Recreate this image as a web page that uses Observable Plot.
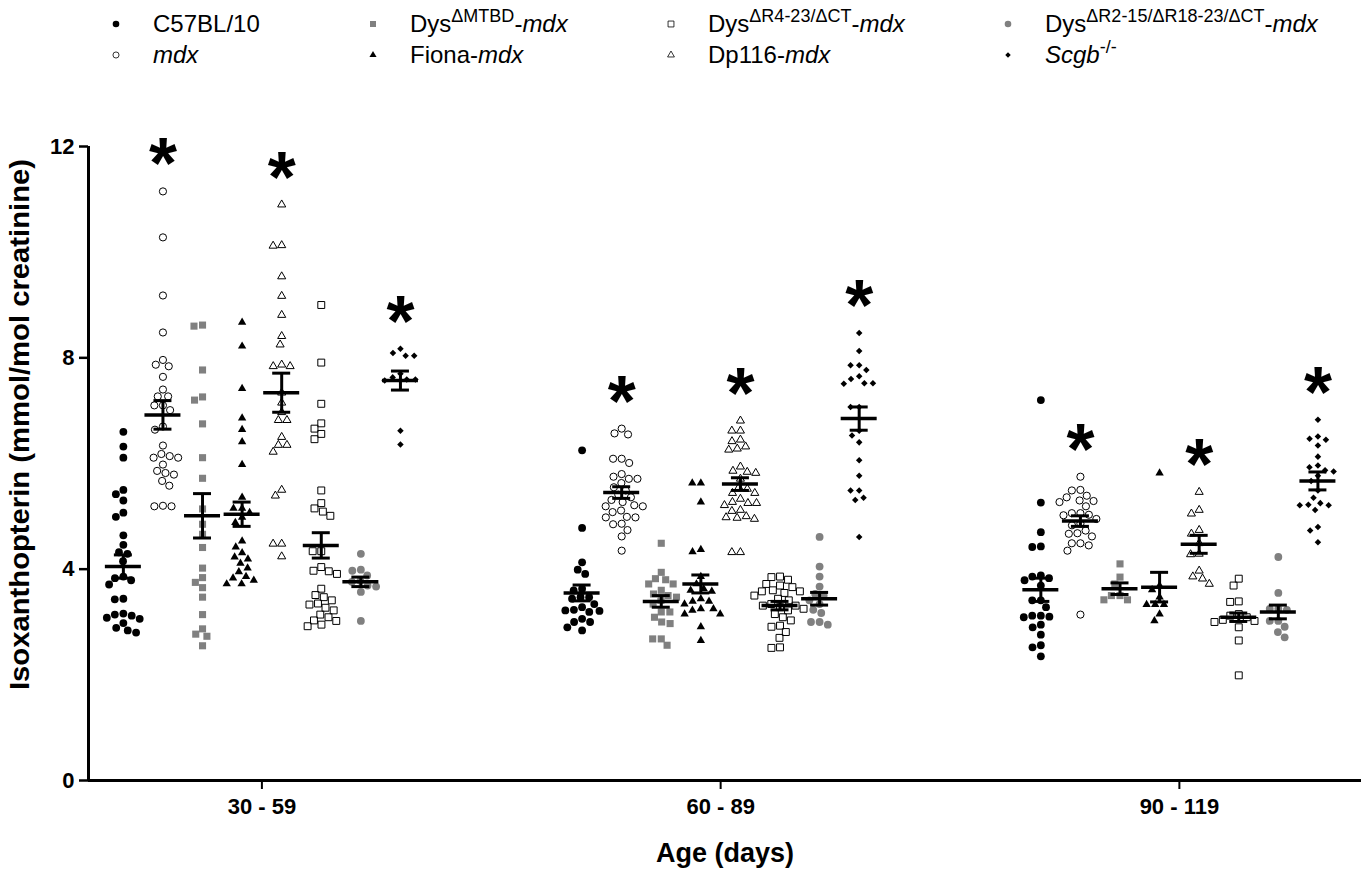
<!DOCTYPE html>
<html>
<head>
<meta charset="utf-8">
<script src="https://cdn.jsdelivr.net/npm/d3@7"></script>
<script src="https://cdn.jsdelivr.net/npm/@observablehq/plot@0.6"></script>
<style>
  body { margin: 0; background: #fff; font-family: "Liberation Sans", Arial, Helvetica, sans-serif; color: #000; }
  #legend { position: relative; width: 1361px; height: 80px; }
  .lg-sym { position: absolute; }
  .lg-txt { position: absolute; font-size: 24px; line-height: 24px; white-space: nowrap; }
  .lg-txt sup { font-size: 18px; vertical-align: 0; position: relative; top: -10px; }
  #chart svg { display: block; }
</style>
</head>
<body>
<div id="legend"></div>
<div id="chart"></div>
<script>
// ---------------- data ----------------
const ageGroups = ["30 - 59", "60 - 89", "90 - 119"];
const seriesNames = ["C57BL/10", "mdx", "DysΔMTBD-mdx", "Fiona-mdx", "Dp116-mdx",
  "DysΔR4-23/ΔCT-mdx", "DysΔR2-15/ΔR18-23/ΔCT-mdx", "Scgb-/-"];

// individual values per series, one list per age group
const c57Values = [
  [6.60, 6.32, 6.11, 5.50, 5.42, 5.30, 5.07, 4.99, 4.64, 4.46, 4.32, 4.29, 4.15, 3.86, 3.83, 3.79, 3.71, 3.43, 3.44, 3.16, 3.12, 3.14, 3.08, 3.06, 2.98, 2.89, 2.80, 2.84],
  [6.25, 4.78, 4.13, 3.99, 3.91, 3.63, 3.60, 3.47, 3.47, 3.44, 3.34, 3.28, 3.23, 3.22, 3.19, 3.21, 3.06, 3.00, 3.00, 2.90, 2.84],
  [7.20, 5.26, 4.70, 4.42, 4.43, 3.88, 3.83, 3.79, 3.86, 3.69, 3.41, 3.41, 3.28, 3.12, 3.09, 3.12, 3.10, 2.95, 2.90, 2.76, 2.56, 2.52, 2.35]
];
const mdxValues = [
  [11.15, 10.28, 9.18, 8.48, 7.96, 7.87, 7.84, 7.64, 7.40, 7.27, 7.27, 7.10, 7.10, 7.01, 6.70, 6.64, 6.34, 6.18, 6.11, 6.11, 6.14, 5.98, 5.86, 5.79, 5.82, 5.67, 5.58, 5.20, 5.19, 5.19],
  [6.66, 6.57, 6.55, 6.09, 6.01, 6.09, 5.80, 5.75, 5.71, 5.71, 5.63, 5.55, 5.49, 5.41, 5.36, 5.31, 5.27, 5.19, 5.19, 5.21, 5.11, 5.08, 4.98, 4.99, 4.98, 4.86, 4.85, 4.74, 4.62, 4.35],
  [5.75, 5.49, 5.50, 5.39, 5.36, 5.29, 5.27, 5.30, 5.19, 5.06, 5.06, 5.02, 5.03, 4.95, 4.86, 4.83, 4.73, 4.68, 4.67, 4.62, 4.49, 4.45, 4.49, 4.35, 3.14]
];
const mtbdValues = [
  [8.62, 8.60, 7.77, 7.26, 7.20, 6.75, 6.11, 5.72, 5.14, 4.85, 4.66, 4.41, 4.02, 3.84, 3.75, 3.65, 3.47, 3.14, 2.87, 2.77, 2.73, 2.55],
  [4.49, 3.94, 3.82, 3.80, 3.72, 3.72, 3.60, 3.53, 3.50, 3.47, 3.41, 3.34, 3.19, 3.19, 3.09, 3.00, 2.97, 2.68, 2.68, 2.56],
  [4.10, 3.85, 3.72, 3.50, 3.50, 3.42, 3.42]
];
const fionaValues = [
  [8.67, 8.22, 7.42, 6.86, 6.64, 6.41, 5.98, 5.36, 5.15, 5.15, 5.07, 4.98, 4.88, 4.53, 4.42, 4.31, 4.23, 4.19, 4.11, 4.02, 3.95, 3.86, 3.79, 3.83, 3.72, 3.72],
  [5.63, 5.63, 5.27, 4.37, 4.33, 3.86, 3.72, 3.63, 3.60, 3.58, 3.44, 3.39, 3.39, 3.34, 3.25, 3.25, 3.22, 3.15, 3.15, 2.91, 2.65],
  [5.82, 3.69, 3.61, 3.47, 3.33, 3.33, 3.33, 3.15, 3.02]
];
const dp116Values = [
  [10.90, 10.12, 10.13, 9.54, 9.17, 8.81, 8.41, 8.25, 7.84, 7.84, 7.87, 7.34, 7.15, 6.97, 6.82, 6.82, 6.50, 6.35, 6.35, 6.22, 5.50, 5.39, 4.48, 4.48, 4.24],
  [6.81, 6.62, 6.62, 6.45, 6.42, 6.32, 6.26, 6.28, 5.94, 5.82, 5.84, 5.86, 5.71, 5.55, 5.52, 5.44, 5.44, 5.33, 5.27, 5.25, 5.25, 5.21, 5.12, 5.10, 5.00, 4.97, 4.95, 4.98, 4.32, 4.32],
  [5.46, 5.12, 5.05, 4.74, 4.67, 4.49, 4.28, 4.29, 3.97, 3.86, 3.82, 3.72]
];
const r423Values = [
  [9.00, 7.91, 7.13, 6.76, 6.66, 6.56, 6.46, 5.49, 5.25, 5.15, 5.09, 5.01, 4.34, 4.34, 4.04, 3.96, 3.91, 3.97, 3.63, 3.51, 3.47, 3.41, 3.33, 3.35, 3.27, 3.22, 3.14, 3.09, 3.03, 3.02, 2.95, 2.92],
  [3.86, 3.85, 3.80, 3.72, 3.69, 3.66, 3.60, 3.58, 3.58, 3.55, 3.50, 3.44, 3.41, 3.34, 3.31, 3.31, 3.28, 3.25, 3.22, 3.15, 3.09, 3.03, 2.93, 2.91, 2.81, 2.70, 2.51, 2.52],
  [3.82, 3.69, 3.39, 3.38, 3.15, 3.12, 3.09, 3.04, 3.02, 3.00, 2.90, 2.65, 1.99]
];
const r215Values = [
  [4.29, 3.99, 3.97, 3.88, 3.78, 3.76, 3.67, 3.69, 3.57, 3.02],
  [4.61, 4.05, 3.86, 3.67, 3.53, 3.50, 3.41, 3.34, 3.23, 3.17, 3.00, 2.95, 3.00],
  [4.23, 3.55, 3.25, 3.25, 3.23, 3.02, 3.02, 2.91, 2.81, 2.71]
];
const scgbValues = [
  [8.17, 8.09, 8.04, 8.04, 7.70, 7.63, 7.59, 7.57, 7.59, 6.62, 6.36],
  [8.47, 8.13, 7.86, 7.86, 7.77, 7.65, 7.60, 7.52, 7.51, 7.52, 7.07, 7.07, 6.62, 6.53, 6.40, 6.06, 5.77, 5.49, 5.49, 5.35, 5.31, 4.61],
  [6.83, 6.51, 6.47, 6.45, 6.34, 6.13, 5.96, 5.93, 5.87, 5.85, 5.77, 5.67, 5.49, 5.35, 5.25, 5.21, 5.21, 5.22, 5.12, 4.80, 4.73, 4.51]
];

// mean and SEM (per series, per age group)
const meanValues = [
  [4.05, 3.55, 3.61], [6.92, 5.45, 4.91], [5.01, 3.39, 3.63], [5.04, 3.72, 3.66],
  [7.34, 5.61, 4.47], [4.45, 3.31, 3.09], [3.76, 3.44, 3.19], [7.57, 6.85, 5.67]
];
const semValues = [
  [0.22, 0.15, 0.22], [0.27, 0.11, 0.10], [0.42, 0.11, 0.11], [0.23, 0.17, 0.28],
  [0.37, 0.12, 0.17], [0.24, 0.08, 0.08], [0.09, 0.12, 0.13], [0.18, 0.22, 0.17]
];
const starredSeries = ["mdx", "Dp116-mdx", "Scgb-/-"];

const legendLabels = [
  "C57BL/10", "<i>mdx</i>", "Dys<sup>ΔMTBD</sup>-<i>mdx</i>", "Fiona-<i>mdx</i>",
  "Dp116-<i>mdx</i>", "Dys<sup>ΔR4-23/ΔCT</sup>-<i>mdx</i>",
  "Dys<sup>ΔR2-15/ΔR18-23/ΔCT</sup>-<i>mdx</i>", "<i>Scgb</i><sup>-/-</sup>"
];
const yTitle = "Isoxanthopterin (mmol/mol creatinine)";
const xTitle = "Age (days)";

// ---------------- layout & style ----------------
const W = 1361, H = 791;
const M = {left: 88, right: 0, top: 66, bottom: 91};
const X_DOMAIN = [-0.378, 2.397];
const xPx = d3.scaleLinear(X_DOMAIN, [M.left, W - M.right]);
const yPx = d3.scaleLinear([0, 12], [H - M.bottom, M.top]);
const pxPerX = xPx(1) - xPx(0);
const seriesCenter = d3.scalePoint().domain(seriesNames).range([-0.302, 0.302]);
const FONT = "'Liberation Sans', Arial, Helvetica, sans-serif";

const diamondSymbol = {
  draw(ctx, size) {
    const r = Math.sqrt(size / 2);
    ctx.moveTo(0, -r); ctx.lineTo(r, 0); ctx.lineTo(0, r); ctx.lineTo(-r, 0); ctx.closePath();
  }
};
const GRAY = "#808080";
const seriesStyles = [
  {symbol: "circle", r: 3.9, fill: "black", stroke: "none", d3sym: d3.symbolCircle},
  {symbol: "circle", r: 3.6, fill: "none", stroke: "black", d3sym: d3.symbolCircle},
  {symbol: "square", r: 4.0, fill: GRAY, stroke: "none", d3sym: d3.symbolSquare},
  {symbol: "triangle", r: 3.1, fill: "black", stroke: "none", d3sym: d3.symbolTriangle},
  {symbol: "triangle", r: 3.0, fill: "none", stroke: "black", d3sym: d3.symbolTriangle},
  {symbol: "square", r: 3.9, fill: "none", stroke: "black", d3sym: d3.symbolSquare},
  {symbol: "circle", r: 3.9, fill: GRAY, stroke: "none", d3sym: d3.symbolCircle},
  {symbol: diamondSymbol, r: 2.6, fill: "black", stroke: "none", d3sym: diamondSymbol}
];

// simple beeswarm: horizontal pixel offsets so that points do not overlap
function swarm(pxValues, D) {
  const placed = [];
  const out = new Array(pxValues.length);
  const order = d3.range(pxValues.length).sort((a, b) => pxValues[a] - pxValues[b]);
  for (const i of order) {
    const y = pxValues[i];
    const cands = [0];
    for (const p of placed) {
      const dy = Math.abs(p.y - y);
      if (dy < D) { const dx = Math.sqrt(D * D - dy * dy); cands.push(p.x + dx, p.x - dx); }
    }
    cands.sort((a, b) => Math.abs(a) - Math.abs(b) || a - b);
    let x = 0;
    for (const c of cands) {
      if (placed.every(p => (p.x - c) ** 2 + (p.y - y) ** 2 >= D * D - 1e-6)) { x = c; break; }
    }
    placed.push({x, y});
    out[i] = x;
  }
  return out;
}

const valueLists = [c57Values, mdxValues, mtbdValues, fionaValues, dp116Values, r423Values, r215Values, scgbValues];
const points = [];
const stats = [];
seriesNames.forEach((name, s) => {
  ageGroups.forEach((age, g) => {
    const vals = valueLists[s][g];
    const cx = g + seriesCenter(name);
    const offs = swarm(vals.map(v => yPx(v)), 8.6);
    vals.forEach((v, i) => points.push({series: name, s, age, value: v, x: cx + offs[i] / pxPerX}));
    const mean = meanValues[s][g], sem = semValues[s][g];
    stats.push({series: name, s, age, x: cx, mean, lo: mean - sem, hi: mean + sem, max: d3.max(vals)});
  });
});

const meanHalf = 18 / pxPerX, capHalf = 9 / pxPerX;

const dotMarks = seriesStyles.map((st, s) =>
  Plot.dot(points.filter(d => d.s === s), {
    x: "x", y: "value", symbol: st.symbol, r: st.r,
    fill: st.fill, stroke: st.stroke, strokeWidth: 1
  })
);

const chart = Plot.plot({
  width: W, height: H,
  marginLeft: M.left, marginRight: M.right, marginTop: M.top, marginBottom: M.bottom,
  style: {fontFamily: FONT, background: "white", color: "black"},
  x: {domain: X_DOMAIN},
  y: {domain: [0, 12]},
  marks: [
    Plot.axisY({ticks: [0, 4, 8, 12], tickSize: 9, tickPadding: 5, strokeWidth: 2.5,
      fontSize: 22, fontWeight: "bold", label: null}),
    Plot.axisX({ticks: [0, 1, 2], tickFormat: d => ageGroups[d], tickSize: 9, tickPadding: 9,
      strokeWidth: 2, fontSize: 22, fontWeight: "bold", label: null}),
    ...dotMarks,
    Plot.ruleY(stats, {y: "mean", x1: d => d.x - meanHalf, x2: d => d.x + meanHalf, strokeWidth: 3.5}),
    Plot.ruleY(stats, {y: "lo", x1: d => d.x - capHalf, x2: d => d.x + capHalf, strokeWidth: 3}),
    Plot.ruleY(stats, {y: "hi", x1: d => d.x - capHalf, x2: d => d.x + capHalf, strokeWidth: 3}),
    Plot.ruleX(stats, {x: "x", y1: "lo", y2: "hi", strokeWidth: 3}),
    Plot.text(stats.filter(d => starredSeries.includes(d.series)), {
      x: "x", y: "max", text: () => "*", fontSize: 72, fontWeight: "bold",
      lineAnchor: "bottom", dy: -3
    }),
    Plot.ruleY([0], {strokeWidth: 3}),
    Plot.ruleX([X_DOMAIN[0]], {strokeWidth: 3}),
    Plot.text([yTitle], {frameAnchor: "left", textAnchor: "middle", lineAnchor: "middle",
      rotate: -90, dx: -68, dy: -39, fontSize: 27, fontWeight: "bold"}),
    Plot.text([xTitle], {frameAnchor: "bottom", textAnchor: "middle", dy: 81, fontSize: 27, fontWeight: "bold"})
  ]
});
// stretch the rotated title to the length it has in the figure
d3.select(chart).selectAll("text").filter(function () { return this.textContent === yTitle; })
  .attr("textLength", 531).attr("lengthAdjust", "spacingAndGlyphs");
document.getElementById("chart").appendChild(chart);

// ---------------- legend ----------------
const legendOrder = [0, 2, 5, 6, 1, 3, 4, 7];
const legendColX = [116, 373, 671, 1008];
const legendRowY = [24, 55];
const legend = d3.select("#legend");
legendOrder.forEach((s, k) => {
  const col = k % 4, row = Math.floor(k / 4);
  const st = seriesStyles[s];
  const size = 14;
  const svg = legend.append("svg").attr("class", "lg-sym")
    .attr("width", size).attr("height", size)
    .style("left", (legendColX[col] - size / 2) + "px")
    .style("top", (legendRowY[row] - size / 2) + "px");
  const area = Math.PI * (st.r * 0.85) ** 2;
  svg.append("path")
    .attr("transform", `translate(${size / 2},${size / 2})`)
    .attr("d", d3.symbol(st.d3sym, area)())
    .attr("fill", st.fill).attr("stroke", st.stroke).attr("stroke-width", 0.8);
  legend.append("div").attr("class", "lg-txt")
    .style("left", (legendColX[col] + 37) + "px")
    .style("top", (legendRowY[row] - 12) + "px")
    .html(legendLabels[s]);
});
</script>
</body>
</html>
